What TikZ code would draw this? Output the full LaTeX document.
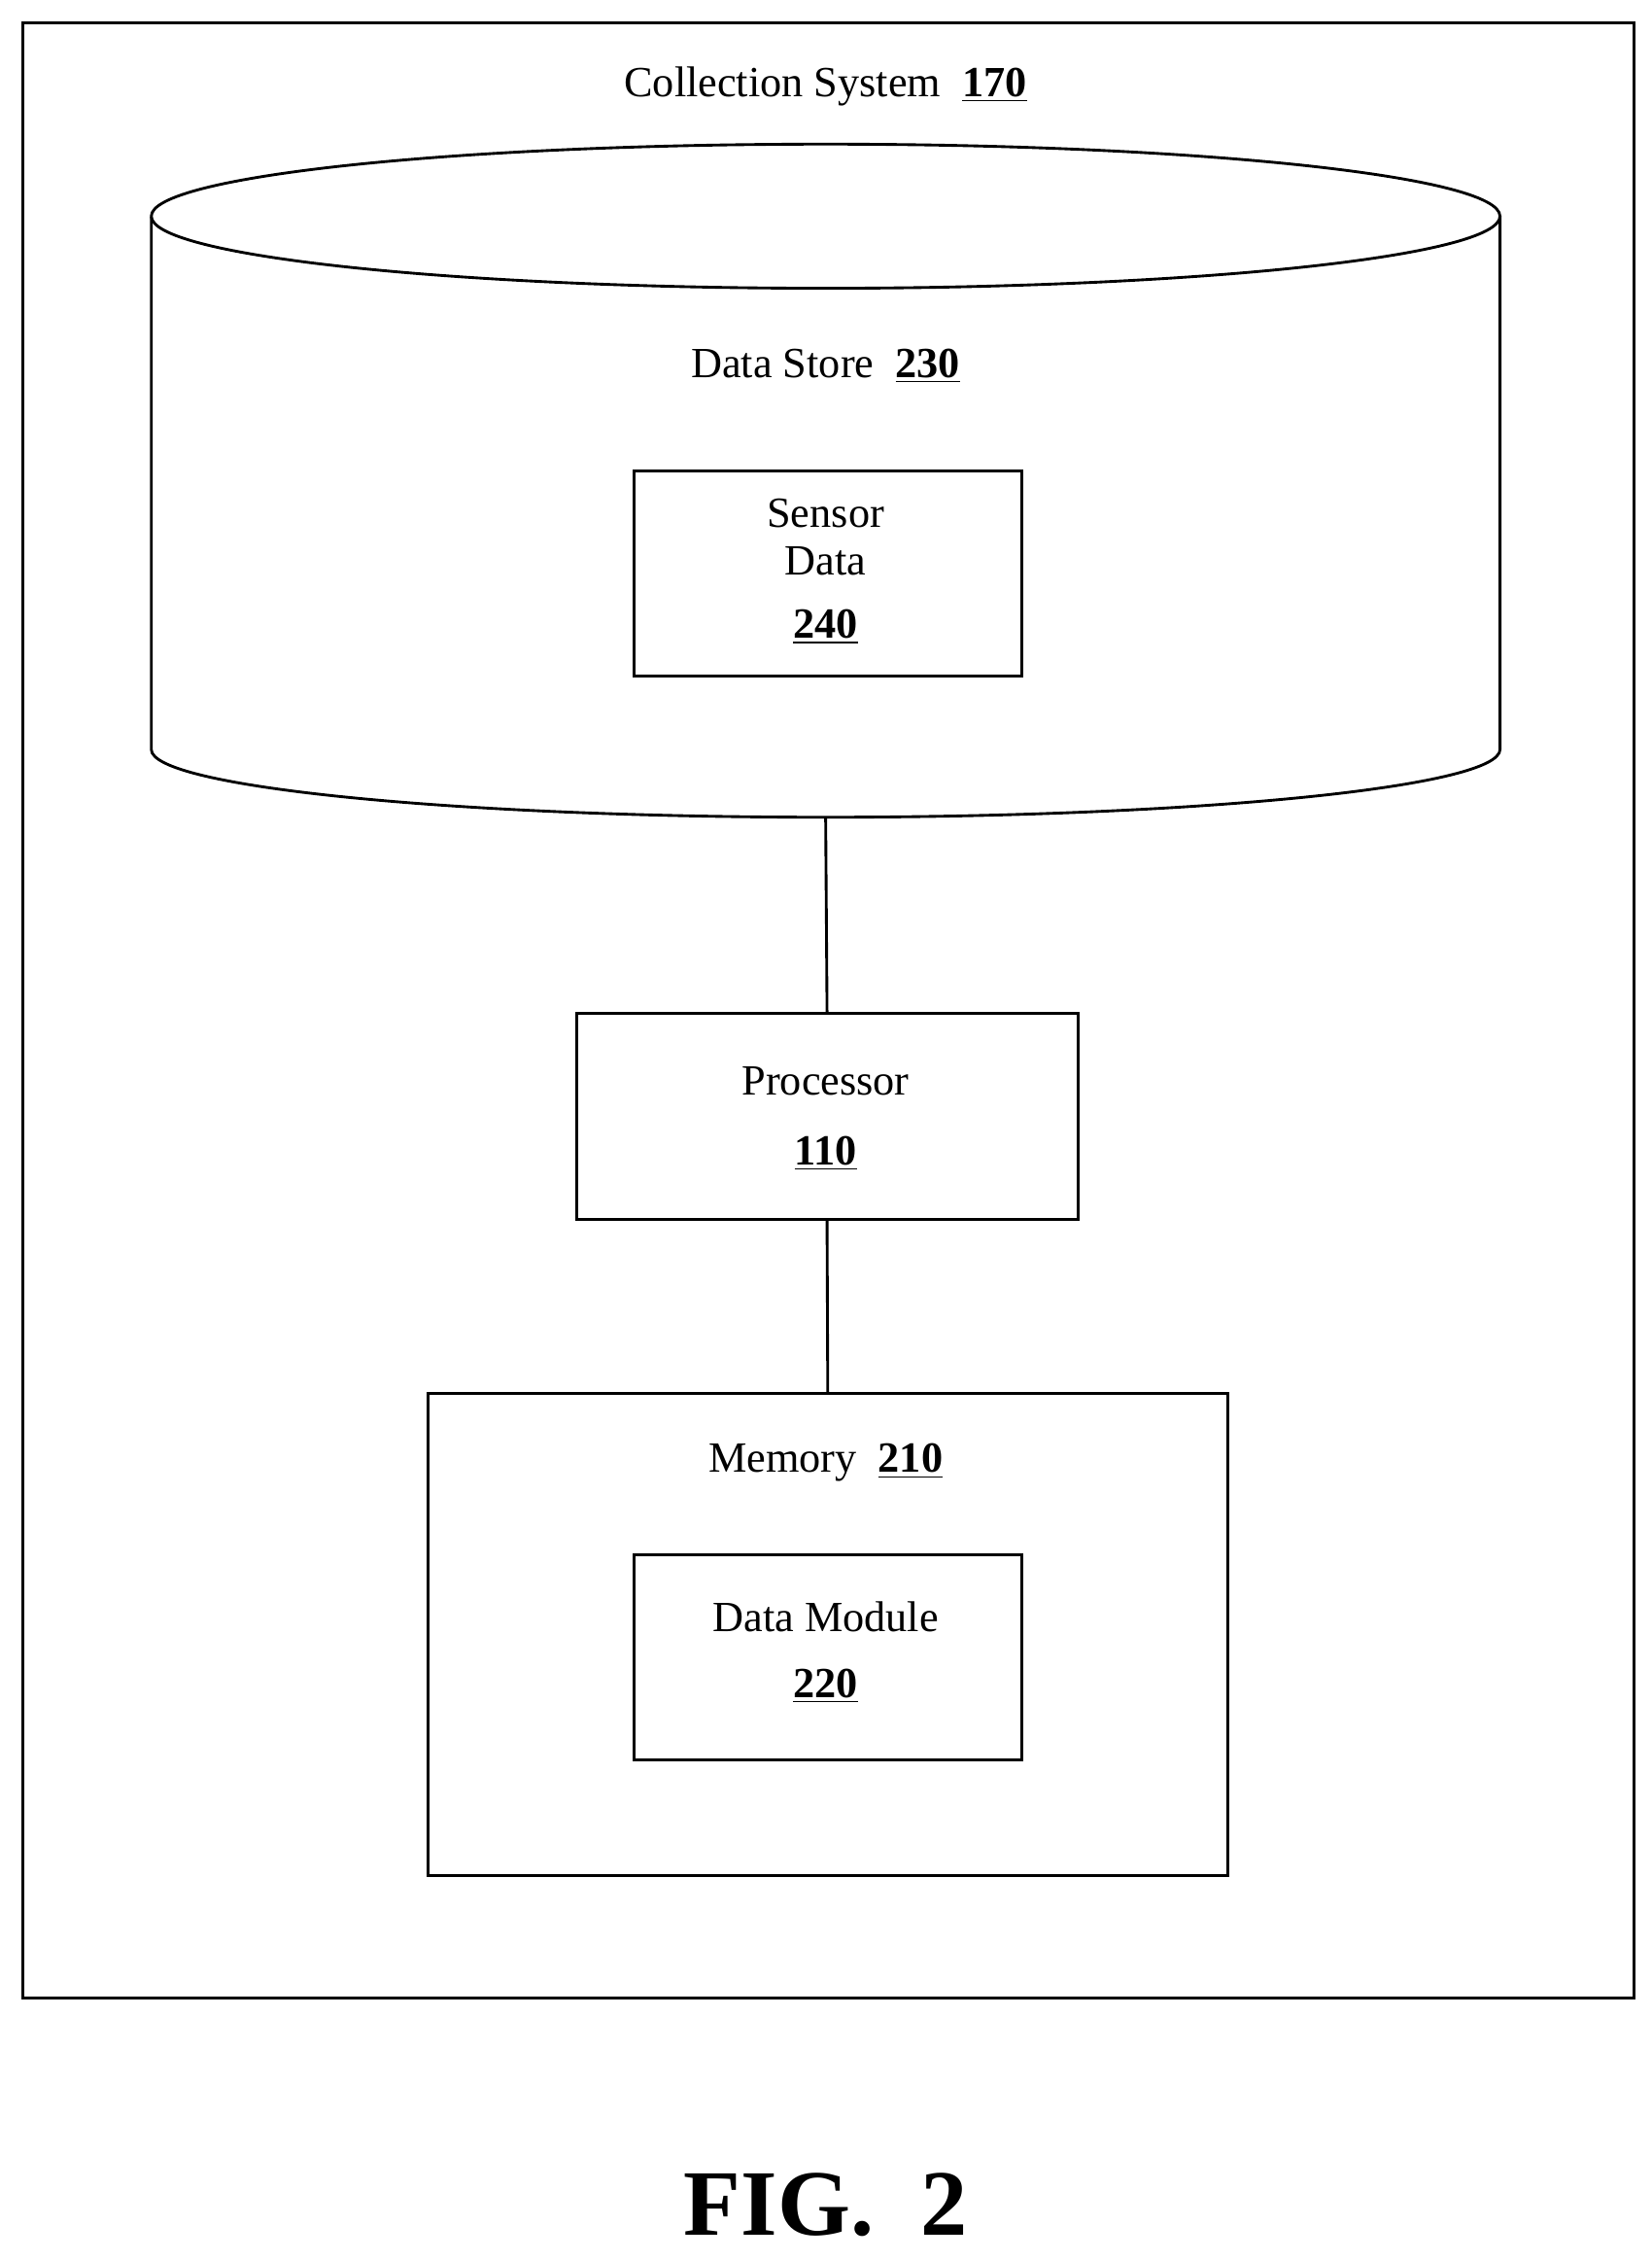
\documentclass[tikz,border=0pt]{standalone}
\usepackage{fontspec}
\setmainfont{Liberation Serif}
\begin{document}
\begin{tikzpicture}[x=0.02cm,y=-0.02cm,line width=1.1pt,
  box/.style={draw,rectangle},
  lbl/.style={font=\fontsize{17}{20}\selectfont,inner sep=0pt},
  num/.style={font=\fontsize{17}{20}\selectfont\bfseries,inner sep=0pt}]
\useasboundingbox (0,0) rectangle (1146,1568);
\node[box,minimum width=1118*0.02cm,minimum height=1370*0.02cm,anchor=north west] (outer) at (15,15) {};
\node[lbl] (t170) at (573,60) {Collection System\ \ \textbf{\underline{170}}};
% cylinder
\draw (105,150) arc[start angle=180,end angle=-180,x radius=468,y radius=-50];
\draw (105,150) -- (105,520) arc[start angle=180,end angle=360,x radius=468,y radius=-47] -- (1041,150);
\coordinate (dsbot) at (573,567);
\node[lbl] (t230) at (573,254) {Data Store\ \ \textbf{\underline{230}}};
\node[box,minimum width=269*0.02cm,minimum height=142*0.02cm,anchor=north west] (sensor) at (439,326) {};
\node[lbl] at (573,356) {Sensor};
\node[lbl] at (573,389) {Data};
\node[num] at (573,435) {\underline{240}};
\node[box,minimum width=348*0.02cm,minimum height=143*0.02cm,anchor=north west] (proc) at (399,702) {};
\node[lbl] at (573,750) {Processor};
\node[num] at (573,800) {\underline{110}};
\node[box,minimum width=555*0.02cm,minimum height=334*0.02cm,anchor=north west] (mem) at (296,966) {};
\node[lbl] at (573,1015) {Memory\ \ \textbf{\underline{210}}};
\node[box,minimum width=269*0.02cm,minimum height=142*0.02cm,anchor=north west] (dm) at (439,1078) {};
\node[lbl] at (573,1122) {Data Module};
\node[num] at (573,1170) {\underline{220}};
\draw (dsbot) -- (proc.north);
\draw (proc.south) -- (mem.north);
\node[font=\fontsize{37}{40}\selectfont\bfseries,inner sep=0pt] (fig) at (573,1530) {FIG.\ \ 2};
\end{tikzpicture}
\end{document}
